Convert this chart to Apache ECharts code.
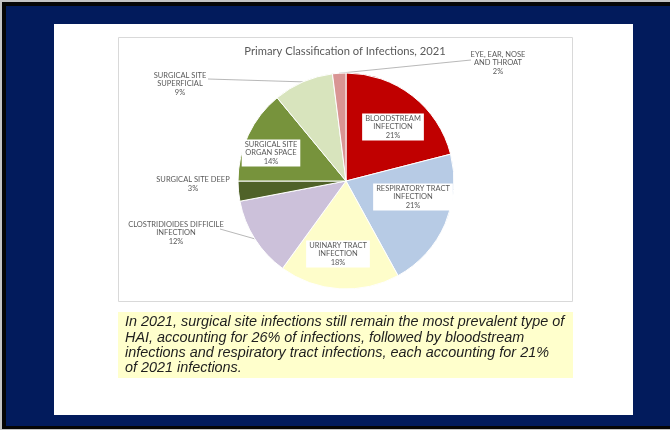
<!DOCTYPE html>
<html>
<head>
<meta charset="utf-8">
<style>
  html, body { margin: 0; padding: 0; background: #ffffff; }
  #chart { width: 670px; height: 430px; }
</style>
<script src="https://cdn.jsdelivr.net/npm/echarts@6/dist/echarts.min.js"></script>
</head>
<body>
<div id="chart"></div>
<script>
// Infection categories, clockwise from 12 o'clock
const categories = [
  'BLOODSTREAM\nINFECTION',
  'RESPIRATORY TRACT\nINFECTION',
  'URINARY TRACT\nINFECTION',
  'CLOSTRIDIOIDES DIFFICILE\nINFECTION',
  'SURGICAL SITE DEEP',
  'SURGICAL SITE\nORGAN SPACE',
  'SURGICAL SITE\nSUPERFICIAL',
  'EYE, EAR, NOSE\nAND THROAT'
];
// Share of 2021 infections (%)
const shares = [21, 21, 18, 12, 3, 14, 9, 2];
const sliceColors = ['#c00000', '#b7cbe5', '#fefdca', '#ccc1da', '#4f6228', '#77933c', '#d8e4bd', '#d99594'];

const chartTitle = 'Primary Classification of Infections, 2021';
const noteLines = [
  'In 2021, surgical site infections still remain the most prevalent type of',
  'HAI, accounting for 26% of infections, followed by bloodstream',
  'infections and respiratory tract infections, each accounting for 21%',
  'of 2021 infections.'
];

// Which slices carry a boxed label inside the pie
const insideLabel = [true, true, true, false, false, true, false, false];
// Which outside labels get a leader line
const withLeader = [false, false, false, true, false, false, true, true];

// Label anchor placement (label centre) and where the leader line meets the text
const labelPlace = {
  0: { x: 393, y: 127 },
  1: { x: 413, y: 197 },
  2: { x: 338, y: 254 },
  3: { x: 176, y: 233, end: [220, 229] },
  4: { x: 193, y: 184 },
  5: { x: 271, y: 153 },
  6: { x: 180, y: 84, end: [208, 79] },
  7: { x: 498, y: 63, end: [471, 60] }
};

const NAVY = '#021b5c';
const labelFont = 'Lato, "Open Sans", sans-serif';

const pieData = categories.map((name, i) => ({
  name: name,
  value: shares[i],
  itemStyle: { color: sliceColors[i] },
  label: insideLabel[i]
    ? { position: 'inside', backgroundColor: '#ffffff', padding: [1, 3, 0, 3] }
    : { position: 'outside' },
  labelLine: { show: withLeader[i] }
}));

const chart = echarts.init(document.getElementById('chart'), null, { renderer: 'canvas' });

chart.setOption({
  animation: false,
  backgroundColor: '#ffffff',
  graphic: [
    // slide frame
    { type: 'rect', z: -10, shape: { x: 0, y: 0, width: 670, height: 430 }, style: { fill: '#c4c4c4' } },
    { type: 'rect', z: -9, shape: { x: 2, y: 2, width: 668, height: 427 }, style: { fill: '#060606' } },
    { type: 'rect', z: -8, shape: { x: 6, y: 6, width: 664, height: 420 }, style: { fill: NAVY } },
    // white content panel
    { type: 'rect', z: -7, shape: { x: 54, y: 24, width: 579, height: 391 }, style: { fill: '#ffffff' } },
    // chart area border
    { type: 'rect', z: -6, shape: { x: 118.5, y: 37.5, width: 454, height: 264 }, style: { fill: '#ffffff', stroke: '#d9d9d9', lineWidth: 1 } },
    // chart title
    { type: 'text', z: 5, x: 345, y: 51,
      style: { text: chartTitle, fill: '#595959', font: '11.2px ' + labelFont, align: 'center', verticalAlign: 'middle' } },
    // highlighted note box
    { type: 'rect', z: -6, shape: { x: 118, y: 312, width: 455, height: 66 }, style: { fill: '#ffffcc' } },
    { type: 'text', z: 5, x: 125, y: 314.5,
      style: {
        text: noteLines.join('\n'),
        fill: '#1e1e1e',
        font: 'italic 14.4px "Liberation Sans", Arial, sans-serif',
        lineHeight: 15.4,
        align: 'left',
        verticalAlign: 'top'
      } }
  ],
  series: [{
    type: 'pie',
    center: [346, 181],
    radius: 108,
    startAngle: 90,
    clockwise: true,
    avoidLabelOverlap: false,
    itemStyle: { borderColor: '#ffffff', borderWidth: 1 },
    label: {
      formatter: '{b}\n{c}%',
      color: '#595959',
      fontFamily: labelFont,
      fontSize: 7.5,
      lineHeight: 8.6,
      align: 'center'
    },
    labelLine: {
      lineStyle: { color: '#a6a6a6', width: 0.8 },
      length: 10,
      length2: 10
    },
    labelLayout: function (params) {
      const p = labelPlace[params.dataIndex];
      const out = { x: p.x, y: p.y, align: 'center', verticalAlign: 'middle' };
      if (p.end && params.labelLinePoints) {
        const start = params.labelLinePoints[0];
        out.labelLinePoints = [start, p.end, p.end];
      }
      return out;
    },
    data: pieData
  }]
});
</script>
</body>
</html>
